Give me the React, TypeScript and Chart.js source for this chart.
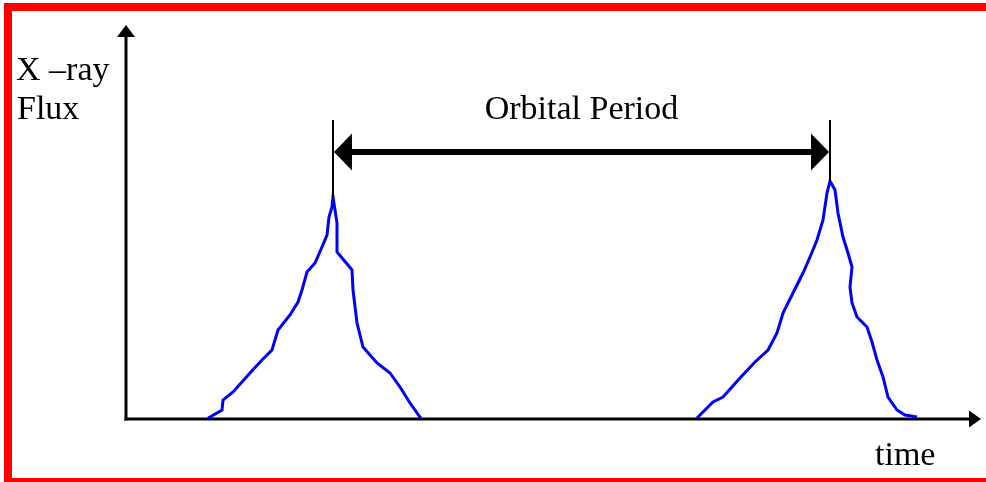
import React, { useEffect, useRef } from "react";
import { Chart, registerables } from "chart.js";

Chart.register(...registerables);

// Data (arbitrary time / flux units)
const leftPulseTime = [82, 84, 96, 97, 107, 124, 136, 146, 152, 164, 172, 176, 181, 189, 196, 201, 203, 206, 207, 211, 211, 216, 222, 226, 227, 231, 237, 251, 264, 274, 284, 294, 295];
const leftPulseFlux = [1, 2, 9, 19, 27, 46, 59, 69, 89, 104, 117, 129, 147, 156, 172, 184, 202, 212, 222, 196, 167, 161, 154, 149, 129, 96, 72, 56, 46, 32, 16, 2, 1];
const rightPulseTime = [571, 572, 587, 597, 614, 629, 642, 651, 657, 666, 677, 684, 691, 697, 701, 704, 709, 712, 717, 722, 726, 724, 726, 731, 741, 746, 751, 757, 762, 771, 779, 791];
const rightPulseFlux = [1, 2, 17, 22, 41, 57, 69, 86, 106, 124, 146, 162, 179, 199, 226, 238, 229, 206, 182, 166, 152, 132, 116, 102, 92, 77, 59, 42, 22, 9, 4, 2];

const timeMax = 855;
const fluxMax = 394;
const markerTopFlux = 299;
const periodArrowFlux = 267;

const yAxisLabel = ["X \u2013ray", "Flux"];
const xAxisLabel = "time";
const periodLabel = "Orbital Period";

const FONT = "34px 'Liberation Serif', 'Times New Roman', serif";

function peakOf(times: number[], fluxes: number[]) {
  let idx = 0;
  fluxes.forEach((f, i) => {
    if (f > fluxes[idx]) idx = i;
  });
  return { t: times[idx], f: fluxes[idx] };
}

const framePlugin = {
  id: "frame",
  beforeDraw(chart: any) {
    const { ctx } = chart;
    const w = 986;
    const h = 482;
    ctx.save();
    ctx.fillStyle = "#ffffff";
    ctx.fillRect(0, 0, w, h);
    ctx.fillStyle = "#ff0000";
    ctx.fillRect(4, 3, w - 4, 8); // top
    ctx.fillRect(4, 3, 8, h - 3); // left
    ctx.fillRect(4, h - 4, w - 4, 4); // bottom
    ctx.restore();
  },
};

const diagramPlugin = {
  id: "diagram",
  beforeDatasetsDraw(chart: any) {
    const { ctx, scales } = chart;
    const x0 = scales.x.getPixelForValue(0);
    const y0 = scales.y.getPixelForValue(0);
    const xEnd = scales.x.getPixelForValue(timeMax);
    const yEnd = scales.y.getPixelForValue(fluxMax);
    ctx.save();
    ctx.strokeStyle = "#000";
    ctx.fillStyle = "#000";
    ctx.lineWidth = 3;
    // y axis
    ctx.beginPath();
    ctx.moveTo(x0, y0 + 1.5);
    ctx.lineTo(x0, yEnd + 10);
    ctx.stroke();
    ctx.beginPath();
    ctx.moveTo(x0, yEnd);
    ctx.lineTo(x0 - 9, yEnd + 12);
    ctx.lineTo(x0 + 9, yEnd + 12);
    ctx.closePath();
    ctx.fill();
    // x axis
    ctx.beginPath();
    ctx.moveTo(x0 - 1.5, y0);
    ctx.lineTo(xEnd - 10, y0);
    ctx.stroke();
    ctx.beginPath();
    ctx.moveTo(xEnd, y0);
    ctx.lineTo(xEnd - 12, y0 - 8.5);
    ctx.lineTo(xEnd - 12, y0 + 8.5);
    ctx.closePath();
    ctx.fill();
    ctx.restore();
  },
  afterDatasetsDraw(chart: any) {
    const { ctx, scales } = chart;
    const sx = scales.x;
    const sy = scales.y;
    const p1 = peakOf(leftPulseTime, leftPulseFlux);
    const p2 = peakOf(rightPulseTime, rightPulseFlux);
    const xa = sx.getPixelForValue(p1.t);
    const xb = sx.getPixelForValue(p2.t);
    const yTop = sy.getPixelForValue(markerTopFlux);
    const yArrow = sy.getPixelForValue(periodArrowFlux);
    ctx.save();
    ctx.strokeStyle = "#000";
    ctx.fillStyle = "#000";
    // marker lines
    ctx.lineWidth = 2;
    ctx.beginPath();
    ctx.moveTo(xa, yTop);
    ctx.lineTo(xa, sy.getPixelForValue(p1.f));
    ctx.moveTo(xb, yTop);
    ctx.lineTo(xb, sy.getPixelForValue(p2.f));
    ctx.stroke();
    // period arrow
    const headL = 18;
    const headH = 18.5;
    ctx.lineWidth = 6;
    ctx.beginPath();
    ctx.moveTo(xa + headL - 2, yArrow);
    ctx.lineTo(xb - headL + 2, yArrow);
    ctx.stroke();
    ctx.beginPath();
    ctx.moveTo(xa + 1, yArrow);
    ctx.lineTo(xa + 1 + headL, yArrow - headH);
    ctx.lineTo(xa + 1 + headL, yArrow + headH);
    ctx.closePath();
    ctx.fill();
    ctx.beginPath();
    ctx.moveTo(xb - 1, yArrow);
    ctx.lineTo(xb - 1 - headL, yArrow - headH);
    ctx.lineTo(xb - 1 - headL, yArrow + headH);
    ctx.closePath();
    ctx.fill();
    // texts
    ctx.font = FONT;
    ctx.textBaseline = "alphabetic";
    ctx.textAlign = "center";
    ctx.fillText(periodLabel, (xa + xb) / 2, yArrow - 33);
    ctx.textAlign = "left";
    ctx.fillText(yAxisLabel[0], 16, 80);
    ctx.fillText(yAxisLabel[1], 17, 119);
    ctx.fillText(xAxisLabel, 875, 465);
    ctx.restore();
  },
};

export default function App() {
  const canvasRef = useRef<HTMLCanvasElement | null>(null);

  useEffect(() => {
    document.body.style.margin = "0";
    document.body.style.overflow = "hidden";
    const canvas = canvasRef.current;
    if (!canvas) return;
    const chart = new Chart(canvas, {
      type: "scatter",
      data: {
        datasets: [
          {
            label: "left pulse",
            data: leftPulseTime.map((t, i) => ({ x: t, y: leftPulseFlux[i] })),
            showLine: true,
            borderColor: "#0000ff",
            borderWidth: 3,
            pointRadius: 0,
            tension: 0,
            clip: false as any,
          },
          {
            label: "right pulse",
            data: rightPulseTime.map((t, i) => ({ x: t, y: rightPulseFlux[i] })),
            showLine: true,
            borderColor: "#0000ff",
            borderWidth: 3,
            pointRadius: 0,
            tension: 0,
            clip: false as any,
          },
        ],
      },
      options: {
        responsive: false,
        animation: false,
        layout: { padding: { left: 126, top: 25, right: 5, bottom: 63 } },
        scales: {
          x: { type: "linear", min: 0, max: timeMax, display: false },
          y: { type: "linear", min: 0, max: fluxMax, display: false },
        },
        plugins: {
          legend: { display: false },
          tooltip: { enabled: false },
        },
      },
      plugins: [framePlugin, diagramPlugin],
    });
    return () => chart.destroy();
  }, []);

  return (
    <div style={{ width: 986, height: 482, overflow: "hidden" }}>
      <canvas
        ref={canvasRef}
        width={986}
        height={482}
        style={{ display: "block", width: 986, height: 482 }}
      />
    </div>
  );
}
